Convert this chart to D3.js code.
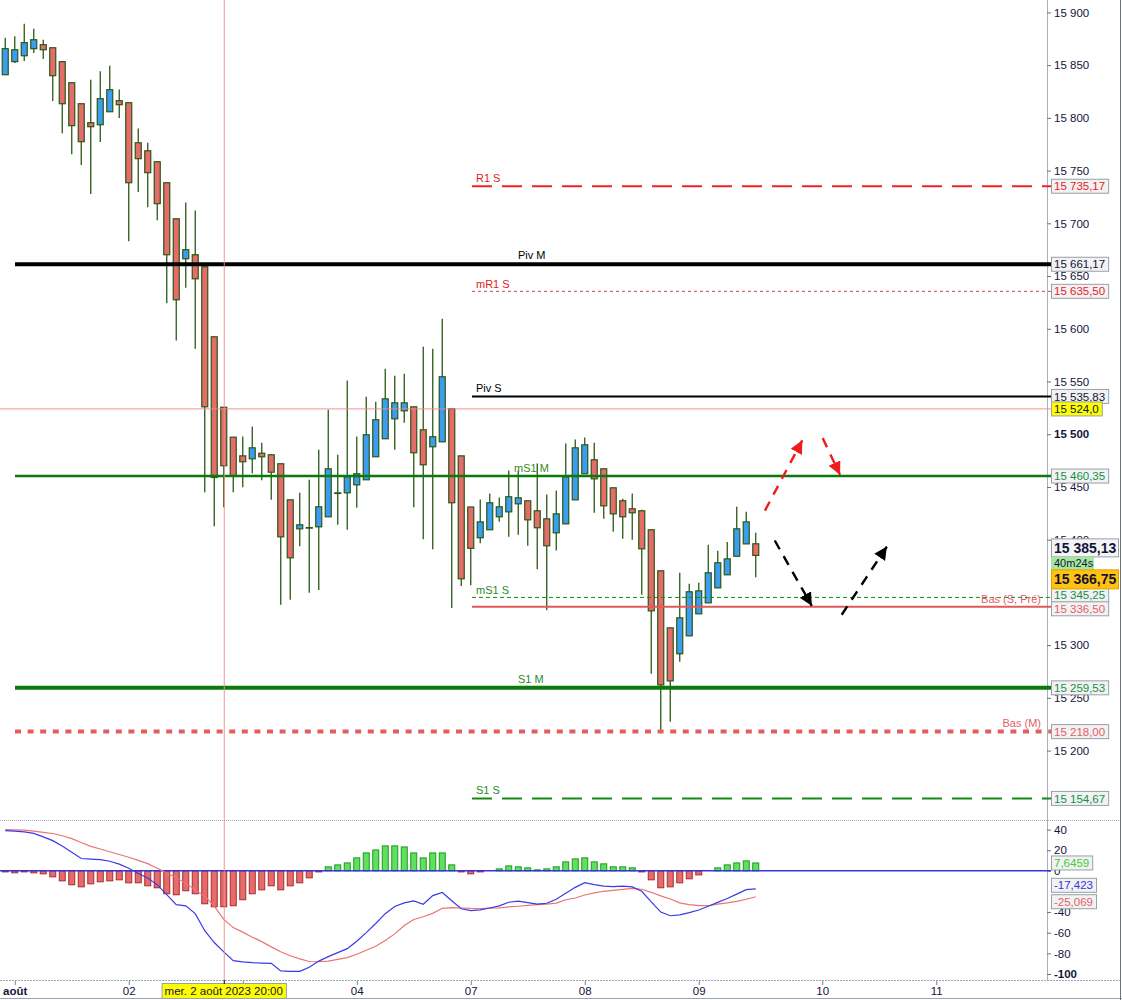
<!DOCTYPE html>
<html>
<head>
<meta charset="utf-8">
<script src="https://cdn.jsdelivr.net/npm/d3@7"></script>
<style>
body { margin: 0; background: #fff; }
svg { display: block; font-family: "Liberation Sans", Arial, sans-serif; }
</style>
</head>
<body>
<div id="chart"></div>
<script>
// 2h candles, NASDAQ 100, 1-9 aug 2023
let opens = [15840.9,15853.3,15858.9,15865.6,15869.4,15866.5,15853.3,15833.3,15813.4,15795.4,
	15793.5,15805.8,15816.3,15814.4,15776.4,15768.8,15758.4,15738.5,15704.3,15666.4,
	15670.2,15658.8,15592.4,15525.6,15497.2,15479.5,15476.7,15482.0,15480.5,15472.0,
	15437.8,15410.3,15411.5,15412.2,15421.7,15444.4,15444.4,15452.0,15456.8,15478.6,
	15495.7,15514.6,15522.2,15526.0,15504.2,15488.1,15492.8,15524.1,15479.5,15431.0,
	15401.8,15409.4,15421.7,15426.4,15434.0,15436.9,15427.4,15419.8,15406.5,15415.0,
	15437.8,15462.5,15475.8,15467.2,15449.2,15436.9,15429.3,15427.4,15409.4,15370.5,
	15316.4,15291.8,15308.8,15329.7,15340.1,15354.3,15366.7,15384.3,15396.0,15396.1]
let highs = [15876.0,15877.3,15889.3,15884.6,15874.1,15866.5,15853.3,15833.3,15813.4,15836.2,
	15844.1,15849.5,15827.0,15814.4,15790.0,15776.4,15758.4,15738.5,15704.3,15719.8,
	15712.2,15658.8,15592.4,15525.6,15497.2,15497.8,15507.3,15491.9,15480.5,15472.0,
	15437.8,15444.4,15456.8,15485.2,15523.2,15480.5,15551.0,15497.8,15535.5,15530.8,
	15562.1,15555.4,15557.3,15526.0,15582.9,15581.1,15609.5,15524.1,15479.5,15431.0,
	15438.1,15443.8,15440.0,15465.6,15465.6,15436.9,15472.3,15442.8,15446.6,15491.2,
	15495.0,15496.9,15491.9,15467.2,15449.2,15438.8,15443.8,15428.3,15409.4,15370.5,
	15316.4,15368.6,15358.1,15359.1,15395.1,15389.4,15397.9,15431.2,15426.4,15406.5]
let lows = [15840.9,15851.9,15853.8,15861.4,15855.7,15815.9,15785.5,15765.6,15755.2,15727.7,
	15777.0,15805.8,15799.8,15683.1,15729.6,15715.3,15703.0,15624.3,15588.9,15638.9,
	15581.1,15445.0,15412.8,15430.8,15445.0,15449.8,15463.0,15456.4,15437.8,15338.2,
	15343.0,15393.8,15349.6,15352.4,15421.7,15414.1,15409.4,15430.2,15456.8,15478.6,
	15495.7,15485.2,15510.8,15430.8,15400.4,15390.9,15492.8,15335.2,15356.1,15356.8,
	15396.7,15409.4,15417.0,15402.7,15404.6,15394.2,15372.0,15333.1,15389.8,15415.0,
	15437.8,15462.5,15425.5,15419.8,15407.5,15400.8,15399.9,15347.7,15272.8,15219.7,
	15227.3,15284.2,15308.8,15329.7,15340.1,15354.3,15366.7,15384.3,15396.0,15364.4]
let closes = [15865.6,15864.6,15871.3,15874.1,15864.6,15840.0,15813.4,15792.6,15777.4,15791.6,
	15818.2,15826.7,15812.5,15738.5,15761.3,15748.0,15718.6,15670.2,15627.5,15675.0,
	15647.4,15526.0,15459.0,15470.1,15460.6,15473.9,15487.1,15478.6,15464.0,15402.7,
	15382.8,15414.1,15411.5,15431.2,15467.2,15444.4,15459.6,15462.5,15499.5,15513.7,
	15533.6,15529.8,15529.8,15482.4,15471.0,15497.6,15554.5,15435.0,15362.9,15391.8,
	15416.9,15435.0,15431.2,15440.7,15439.7,15418.8,15411.3,15394.2,15424.5,15459.6,
	15487.1,15490.0,15457.7,15432.1,15424.5,15421.7,15425.5,15391.3,15332.5,15262.3,
	15266.1,15325.9,15350.6,15351.5,15368.6,15378.1,15381.8,15410.3,15416.9,15385.1]

// MACD panel
let macdLine = [39,38.6,37.8,36.3,33,29.3,24,18,12,11.3,
	10.8,9.3,6.5,2.5,-2.6,-7,-13.6,-23,-32.7,-33.9,
	-41.5,-58,-69.5,-78.5,-87,-88.3,-89,-89.4,-89.7,-97,
	-97.4,-97.4,-93.5,-87.5,-83.2,-79.3,-75.4,-68.2,-59.9,-51,
	-41.5,-34.5,-31,-29.2,-32.4,-24,-21,-29,-36.8,-38.6,
	-37.8,-36,-34,-30.4,-29.3,-30.8,-32.3,-31.4,-27.5,-21.7,
	-16,-11.4,-13.4,-14.8,-15.3,-14.8,-15.5,-19.8,-30,-40,
	-43.5,-42.7,-40.5,-38,-34.3,-30.6,-26.8,-22.6,-18.2,-17.423]
let signalLine = [39.9,39.7,39.4,38.5,37.3,36.2,34,31.2,27.5,23.7,
	21.2,18.5,15.9,13.2,10.2,7,2.6,-2.1,-6.6,-11.9,
	-18.6,-24.5,-34.2,-47,-55,-59.4,-64.3,-68.6,-73.7,-78.5,
	-82.3,-85.3,-87.9,-88.1,-87.5,-85.9,-84.1,-80.8,-77,-73.1,
	-67.6,-61.1,-53,-47.1,-44.5,-41.2,-36.3,-35.6,-36,-36.4,
	-36.5,-36.2,-35.9,-35,-34.3,-33.5,-32.8,-32.3,-31.2,-28,
	-26.3,-23.4,-21.3,-19.8,-18.9,-17.9,-16.9,-17.8,-20.8,-24.2,
	-27.3,-31,-32.8,-33.7,-33.8,-32.3,-31,-29.6,-27.5,-25.069]
let histo = [-1,-1.9,-1,-1.9,-2.9,-5.8,-9.7,-13.5,-15.5,-12.6,
	-10.6,-9.7,-8.7,-11.6,-11.6,-14.5,-16.4,-22.2,-23.2,-19.3,
	-22.2,-31.9,-34.8,-34.8,-33.8,-28,-22.2,-18.4,-14.5,-18.4,
	-14.5,-11.6,-6.8,-1,3.9,5.8,7.7,12.6,17.4,20.3,
	24.2,24.2,23.2,17.4,12.6,17.4,17.4,5.8,-1,-2.9,
	-1,0,1.9,4.8,3.9,2.9,1,1.9,3.9,8.7,
	11.6,12.6,8.7,6.8,3.9,3.9,2.9,-1,-8.7,-16.4,
	-15.5,-11.6,-7.7,-3.9,0,2.9,5.8,7.7,9.7,7.6459]

// pivot levels
let levelNames = ['R1 S','Piv M','mR1 S','Piv S','mS1 M','mS1 S','Bas (S, Pré)','S1 M','Bas (M)','S1 S']
let levelValues = [15735.17,15661.17,15635.50,15535.83,15460.35,15345.25,15336.50,15259.53,15218.00,15154.67]

// x axis (03 sits under the crosshair date box, tick only)
let dayLabels = ['août','02','','04','07','08','09','10','11']
let daySlots = [1,13,25,37,49,61,73,86,98]
let priceTicks = [15200,15250,15300,15400,15450,15500,15550,15600,15650,15700,15750,15800,15850,15900]
let macdTicks = [40,20,0,-40,-60,-80,-100]

// crosshair and last price
let crossSlot = 23
let crossPrice = 15524.0
let crossDate = 'mer. 2 août 2023 20:00'
let lastPrice = 15385.13
let askPrice = 15366.75
let countdown = '40m24s'

// arrows: [slot from, price from, slot to, price to]
let redArrows = [[79.97,15427.6,83.9,15494.2],[86.05,15496.3,87.87,15461.5]]
let blackArrows = [[81.0,15399.2,84.9,15337.3],[88.05,15328.8,92.8,15393.5]]

let axisX = 1047

let locale = d3.formatLocale({decimal: ',', thousands: ' ', grouping: [3], currency: ['', ''], minus: '-'})
let fmt0 = locale.format(',.0f')
let fmt2 = locale.format(',.2f')
let fmt1 = locale.format(',.1f')

let xScale = d3.scaleLinear()
	.domain([0, 110])
	.range([5.25, 5.25 + 9.5 * 110])

let yScale = d3.scaleLinear()
	.domain([15200, 15900])
	.range([750.6, 12.4])

let mScale = d3.scaleLinear()
	.domain([-100, 40])
	.range([974, 829.6])

let svg = d3.select('#chart').append('svg')
	.attr('width', 1122)
	.attr('height', 1000)

let defs = svg.append('defs')
defs.append('clipPath').attr('id', 'clipMain')
	.append('rect').attr('x', 0).attr('y', 0).attr('width', 1053).attr('height', 819)
defs.append('clipPath').attr('id', 'clipMacd')
	.append('rect').attr('x', 0).attr('y', 821).attr('width', 1053).attr('height', 159)

let arrowColors = {red: '#ee1c1c', black: '#000'}
Object.keys(arrowColors).forEach((k) => {
	defs.append('marker')
		.attr('id', 'head-' + k)
		.attr('markerUnits', 'userSpaceOnUse')
		.attr('markerWidth', 14).attr('markerHeight', 14)
		.attr('refX', 13).attr('refY', 6.5)
		.attr('orient', 'auto')
		.append('path')
		.attr('d', 'M0,0 L13,6.5 L0,13 Z')
		.attr('fill', arrowColors[k])
})

// frame
svg.append('rect').attr('x', 0).attr('y', 0).attr('width', 1122).attr('height', 1000).attr('fill', '#fff')
svg.append('line').attr('x1', 0).attr('x2', 1122).attr('y1', 820.5).attr('y2', 820.5)
	.attr('stroke', '#a0a4c0').attr('stroke-dasharray', '1,1')
svg.append('line').attr('x1', 0).attr('x2', 1120).attr('y1', 980.5).attr('y2', 980.5)
	.attr('stroke', '#9aa4ac').attr('stroke-dasharray', '2,1')
svg.append('line').attr('x1', 0).attr('x2', 1122).attr('y1', 998.5).attr('y2', 998.5)
	.attr('stroke', '#9aa4ac')
svg.append('line').attr('x1', axisX + 0.5).attr('x2', axisX + 0.5).attr('y1', 0).attr('y2', 980)
	.attr('stroke', '#a8b0b8')
svg.append('line').attr('x1', 1120.5).attr('x2', 1120.5).attr('y1', 0).attr('y2', 1000)
	.attr('stroke', '#6c747c')

// candles
let candles = opens.map((o, i) => ({i: i, o: o, h: highs[i], l: lows[i], c: closes[i]}))
let candleG = svg.append('g').attr('clip-path', 'url(#clipMain)')

candleG.selectAll('line.wick')
	.data(candles)
	.enter().append('line')
	.attr('class', 'wick')
	.attr('x1', (d) => xScale(d.i))
	.attr('x2', (d) => xScale(d.i))
	.attr('y1', (d) => yScale(d.h))
	.attr('y2', (d) => yScale(d.l))
	.attr('stroke', '#2c5814')
	.attr('stroke-width', 1.3)

candleG.selectAll('rect.body')
	.data(candles)
	.enter().append('rect')
	.attr('class', 'body')
	.attr('x', (d) => xScale(d.i) - 3)
	.attr('width', 6)
	.attr('y', (d) => yScale(Math.max(d.o, d.c)))
	.attr('height', (d) => Math.max(0.6, Math.abs(yScale(d.o) - yScale(d.c))))
	.attr('fill', (d) => d.c >= d.o ? '#3a9df0' : '#e66b6b')
	.attr('stroke', '#2c5814')
	.attr('stroke-width', 1.2)

// pivot levels
let levelStyle = {
	'R1 S': {color: '#ee2222', width: 2, dash: '20,10', start: 472, text: '#e82020', lx: 476, anchor: 'start'},
	'Piv M': {color: '#000', width: 4, dash: null, start: 15, text: '#000', lx: 518, anchor: 'start'},
	'mR1 S': {color: '#c84848', width: 1, dash: '3,3', start: 472, text: '#e02020', lx: 476, anchor: 'start'},
	'Piv S': {color: '#000', width: 2, dash: null, start: 472, text: '#000', lx: 476, anchor: 'start'},
	'mS1 M': {color: '#0b7a0b', width: 2.5, dash: null, start: 15, text: '#3a8a1a', lx: 514, anchor: 'start'},
	'mS1 S': {color: '#148a14', width: 1, dash: '4,3', start: 472, text: '#2a8a2a', lx: 476, anchor: 'start'},
	'Bas (S, Pré)': {color: '#e05a5a', width: 2, dash: null, start: 472, text: '#e0606a', lx: 1041, anchor: 'end'},
	'S1 M': {color: '#0b7a0b', width: 4, dash: null, start: 15, text: '#2a8a2a', lx: 518, anchor: 'start'},
	'Bas (M)': {color: '#e06060', width: 4, dash: '6,6.6', start: 15, text: '#e0606a', lx: 1041, anchor: 'end'},
	'S1 S': {color: '#148a14', width: 2, dash: '20,10', start: 472, text: '#2a8a2a', lx: 476, anchor: 'start'},
}

let levels = levelNames.map((n, i) => ({name: n, value: levelValues[i], st: levelStyle[n]}))
let levelG = svg.append('g')

levelG.selectAll('line')
	.data(levels)
	.enter().append('line')
	.attr('x1', (d) => d.st.start)
	.attr('x2', axisX + 5)
	.attr('y1', (d) => yScale(d.value))
	.attr('y2', (d) => yScale(d.value))
	.attr('stroke', (d) => d.st.color)
	.attr('stroke-width', (d) => d.st.width)
	.attr('stroke-dasharray', (d) => d.st.dash)

levelG.selectAll('text')
	.data(levels)
	.enter().append('text')
	.attr('x', (d) => d.st.lx)
	.attr('y', (d) => yScale(d.value) - d.st.width / 2 - 3)
	.attr('text-anchor', (d) => d.st.anchor)
	.attr('font-size', 11)
	.attr('fill', (d) => d.st.text)
	.text((d) => d.name)

// MACD
let macdG = svg.append('g').attr('clip-path', 'url(#clipMacd)')
macdG.selectAll('rect')
	.data(histo)
	.enter().append('rect')
	.attr('x', (d, i) => xScale(i) - 3)
	.attr('width', 6)
	.attr('y', (d) => mScale(Math.max(0, d)))
	.attr('height', (d) => Math.abs(mScale(d) - mScale(0)))
	.attr('fill', (d) => d >= 0 ? '#5fe05f' : '#e66b6b')
	.attr('stroke', (d) => d >= 0 ? '#1c9a1c' : '#a82c2c')
	.attr('stroke-width', 1)

macdG.append('line')
	.attr('x1', 0).attr('x2', axisX + 4)
	.attr('y1', mScale(0)).attr('y2', mScale(0))
	.attr('stroke', '#3434e0').attr('stroke-width', 1.5)

let mLine = d3.line()
	.x((d, i) => xScale(i))
	.y((d) => mScale(d))
	.curve(d3.curveLinear)

macdG.append('path')
	.attr('d', mLine(signalLine))
	.attr('fill', 'none')
	.attr('stroke', '#ec7474')
	.attr('stroke-width', 1.2)

macdG.append('path')
	.attr('d', mLine(macdLine))
	.attr('fill', 'none')
	.attr('stroke', '#3a3ae6')
	.attr('stroke-width', 1.2)

// crosshair
svg.append('line')
	.attr('x1', xScale(crossSlot) + 0.5).attr('x2', xScale(crossSlot) + 0.5)
	.attr('y1', 0).attr('y2', 980)
	.attr('stroke', '#f08a8a').attr('stroke-width', 1).attr('opacity', 0.9)
svg.append('line')
	.attr('x1', 0).attr('x2', axisX + 4)
	.attr('y1', yScale(crossPrice)).attr('y2', yScale(crossPrice))
	.attr('stroke', '#f08a8a').attr('stroke-width', 1).attr('opacity', 0.9)

// arrows
let drawArrows = (list, key) => {
	svg.append('g').selectAll('line')
		.data(list)
		.enter().append('line')
		.attr('x1', (d) => xScale(d[0]))
		.attr('y1', (d) => yScale(d[1]))
		.attr('x2', (d) => xScale(d[2]))
		.attr('y2', (d) => yScale(d[3]))
		.attr('stroke', arrowColors[key])
		.attr('stroke-width', 2.4)
		.attr('stroke-dasharray', '10,8')
		.attr('marker-end', 'url(#head-' + key + ')')
}
drawArrows(redArrows, 'red')
drawArrows(blackArrows, 'black')

// price axis
let yAxis = d3.axisRight(yScale)
	.tickValues(priceTicks)
	.tickSize(4)
	.tickPadding(3)
	.tickFormat(fmt0)

let yAxisG = svg.append('g')
	.attr('transform', `translate(${axisX},0)`)
	.call(yAxis)

let mAxis = d3.axisRight(mScale)
	.tickValues(macdTicks)
	.tickSize(4)
	.tickPadding(3)
	.tickFormat(locale.format('d'))

let mAxisG = svg.append('g')
	.attr('transform', `translate(${axisX},0)`)
	.call(mAxis)

;[yAxisG, mAxisG].forEach((g) => {
	g.select('.domain').remove()
	g.selectAll('.tick line').attr('stroke', '#6a7080')
	g.selectAll('.tick text')
		.attr('font-size', 11.5)
		.attr('font-family', '"Liberation Sans", Arial, sans-serif')
		.attr('fill', '#14143a')
})
yAxisG.selectAll('.tick text').attr('font-weight', (d) => d === 15500 ? 'bold' : 'normal')
mAxisG.selectAll('.tick text').attr('font-weight', (d) => d === -100 ? 'bold' : 'normal')

// x axis
let xAxis = d3.axisBottom(xScale)
	.tickValues(daySlots)
	.tickSize(4)
	.tickPadding(2)
	.tickFormat((d, i) => dayLabels[i])

let xAxisG = svg.append('g')
	.attr('transform', 'translate(0,981)')
	.call(xAxis)
xAxisG.select('.domain').remove()
xAxisG.selectAll('.tick line').attr('stroke', '#7a8088')
xAxisG.selectAll('.tick text')
	.attr('font-size', 11.5)
	.attr('font-family', '"Liberation Sans", Arial, sans-serif')
	.attr('fill', '#14143a')
	.attr('font-weight', (d, i) => i === 0 ? 'bold' : 'normal')

// value boxes
let boxG = svg.append('g')
let valueBox = (x, yc, text, opts) => {
	let g = boxG.append('g')
	let size = opts.size || 11.5
	let t = g.append('text')
		.attr('x', x + 3)
		.attr('y', yc + size * 0.36)
		.attr('font-size', size)
		.attr('font-weight', opts.bold ? 'bold' : 'normal')
		.attr('fill', opts.color || '#14143a')
		.text(text)
	let w = opts.w || (t.node().getComputedTextLength() + 6)
	let h = opts.h || 14
	g.insert('rect', 'text')
		.attr('x', x + 0.5)
		.attr('y', yc - h / 2)
		.attr('width', w)
		.attr('height', h)
		.attr('fill', opts.bg || '#f2f2f2')
		.attr('stroke', opts.border || '#98a0a8')
	return g
}

let boxColors = {
	'R1 S': '#e8202a', 'Piv M': '#14143a', 'mR1 S': '#e8202a', 'Piv S': '#14143a',
	'mS1 M': '#12904a', 'mS1 S': '#12904a', 'Bas (S, Pré)': '#e0606a', 'S1 M': '#12904a',
	'Bas (M)': '#e0606a', 'S1 S': '#12904a',
}

// push overlapping boxes apart
let boxes = levels.map((d) => ({y: yScale(d.value), text: fmt2(d.value), color: boxColors[d.name]}))
boxes.sort((a, b) => a.y - b.y)
for (let k = 0; k < 4; k++) {
	for (let i = 1; i < boxes.length; i++) {
		let gap = boxes[i].y - boxes[i - 1].y
		if (gap < 13.5) {
			let push = (13.5 - gap) / 2
			boxes[i].y += push
			boxes[i - 1].y -= push
		}
	}
}
boxes.forEach((b) => valueBox(1051, b.y, b.text, {color: b.color}))

valueBox(1051, yScale(crossPrice), fmt1(crossPrice), {bg: '#ffff00'})

let lastY = yScale(lastPrice)
valueBox(1051, lastY - 7.5, fmt2(lastPrice), {bold: true, size: 14, w: 67, h: 18, bg: '#f4f4f4'})
valueBox(1051, lastY + 8, countdown, {size: 11, w: 42, h: 12, bg: '#a4e8a0', border: '#a4e8a0', color: '#14143a'})
valueBox(1051, lastY + 24, fmt2(askPrice), {bold: true, size: 14, w: 67, h: 19, bg: '#ffc20e', border: '#e0a000'})

// MACD last values
valueBox(1051, mScale(histo[histo.length - 1]), locale.format('.4f')(histo[histo.length - 1]), {color: '#3ccc3c'})
valueBox(1051, mScale(macdLine[macdLine.length - 1]) - 3.5, locale.format('.3f')(macdLine[macdLine.length - 1]), {color: '#3434e0'})
valueBox(1051, mScale(signalLine[signalLine.length - 1]) + 5, locale.format('.3f')(signalLine[signalLine.length - 1]), {color: '#e0606a'})

// crosshair date
let dateG = svg.append('g')
let dateText = dateG.append('text')
	.attr('x', xScale(crossSlot))
	.attr('y', 995)
	.attr('text-anchor', 'middle')
	.attr('font-size', 11.5)
	.attr('fill', '#14143a')
	.text(crossDate)
let dw = dateText.node().getComputedTextLength() + 6
dateG.insert('rect', 'text')
	.attr('x', xScale(crossSlot) - dw / 2 + 0.5)
	.attr('y', 983.5)
	.attr('width', dw)
	.attr('height', 15)
	.attr('fill', '#ffff00')
	.attr('stroke', '#98a0a8')
svg.append('line')
	.attr('x1', xScale(crossSlot) + 0.5).attr('x2', xScale(crossSlot) + 0.5)
	.attr('y1', 980).attr('y2', 984)
	.attr('stroke', '#000')
</script>
</body>
</html>
